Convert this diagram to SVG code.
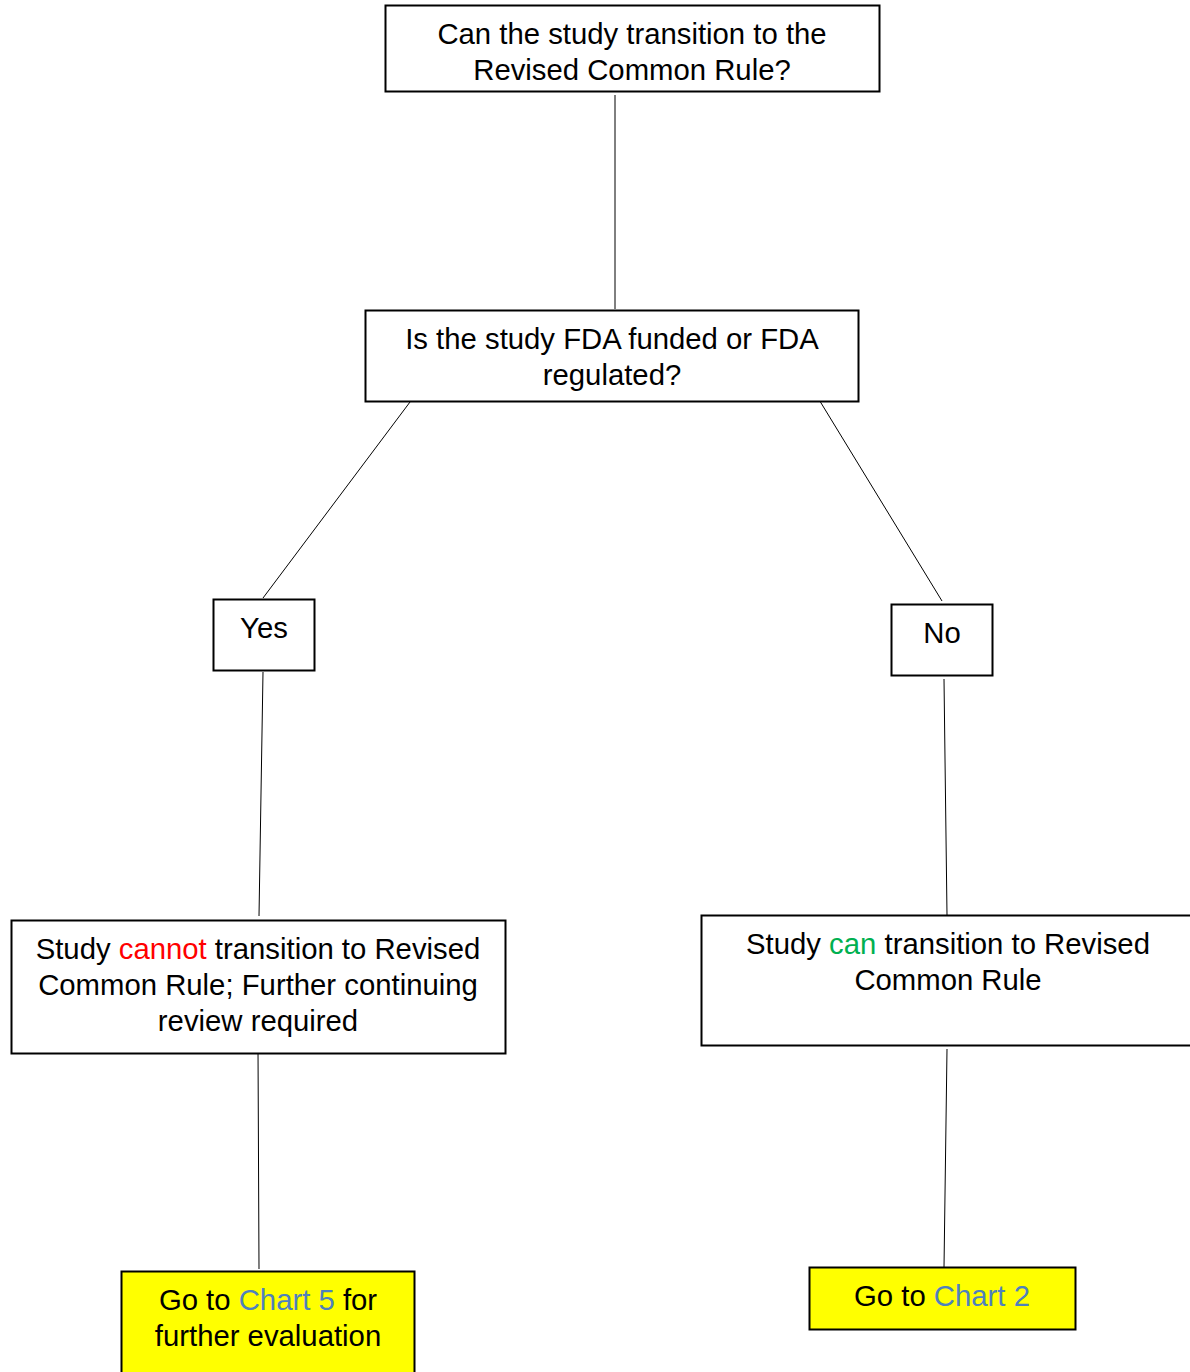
<svg xmlns="http://www.w3.org/2000/svg" width="1190" height="1372" viewBox="0 0 1190 1372">
<style>
.box{fill:#fff;stroke:#000;stroke-width:2}
.goto{fill:#ffff00;stroke:#000;stroke-width:2}
text{font-family:"Liberation Sans",Arial,sans-serif;font-size:29.3px;fill:#000;text-anchor:middle}
.red{fill:#ff0000}
.green{fill:#00b050}
.blue{fill:#4f81bd}
.conn line{stroke:#000;stroke-width:1}
</style>
<rect width="1190" height="1372" fill="#fff"/>
<g id="connectors" class="conn">
<line x1="615" y1="95" x2="615" y2="309"/>
<line x1="413" y1="398" x2="263" y2="598"/>
<line x1="818" y1="398" x2="942" y2="601"/>
<line x1="263" y1="672" x2="259" y2="916"/>
<line x1="944" y1="679" x2="947" y2="915"/>
<line x1="258" y1="1049" x2="259" y2="1269"/>
<line x1="947" y1="1049" x2="944" y2="1267"/>
</g>
<g id="q1">
<rect class="box" x="385.5" y="5.5" width="494" height="86"/>
<text x="632" y="44">Can the study transition to the</text>
<text x="632" y="80">Revised Common Rule?</text>
</g>
<g id="q2">
<rect class="box" x="365.5" y="310.5" width="493" height="91"/>
<text x="612" y="349">Is the study FDA funded or FDA</text>
<text x="612" y="385">regulated?</text>
</g>
<g id="yes">
<rect class="box" x="213.5" y="599.5" width="101" height="71"/>
<text x="264" y="638">Yes</text>
</g>
<g id="no">
<rect class="box" x="891.5" y="604.5" width="101" height="71"/>
<text x="942" y="643">No</text>
</g>
<g id="cannot">
<rect class="box" x="11.5" y="920.5" width="494" height="133"/>
<text x="258" y="959">Study <tspan class="red">cannot</tspan> transition to Revised</text>
<text x="258" y="995">Common Rule; Further continuing</text>
<text x="258" y="1031">review required</text>
</g>
<g id="can">
<rect class="box" x="701.5" y="915.5" width="500" height="130"/>
<text x="948" y="954">Study <tspan class="green">can</tspan> transition to Revised</text>
<text x="948" y="990">Common Rule</text>
</g>
<g id="chart5">
<rect class="goto" x="121.5" y="1271.5" width="293" height="110"/>
<text x="268" y="1310">Go to <tspan class="blue">Chart 5</tspan> for</text>
<text x="268" y="1346">further evaluation</text>
</g>
<g id="chart2">
<rect class="goto" x="809.5" y="1267.5" width="266" height="62"/>
<text x="942" y="1306">Go to <tspan class="blue">Chart 2</tspan></text>
</g>
</svg>
